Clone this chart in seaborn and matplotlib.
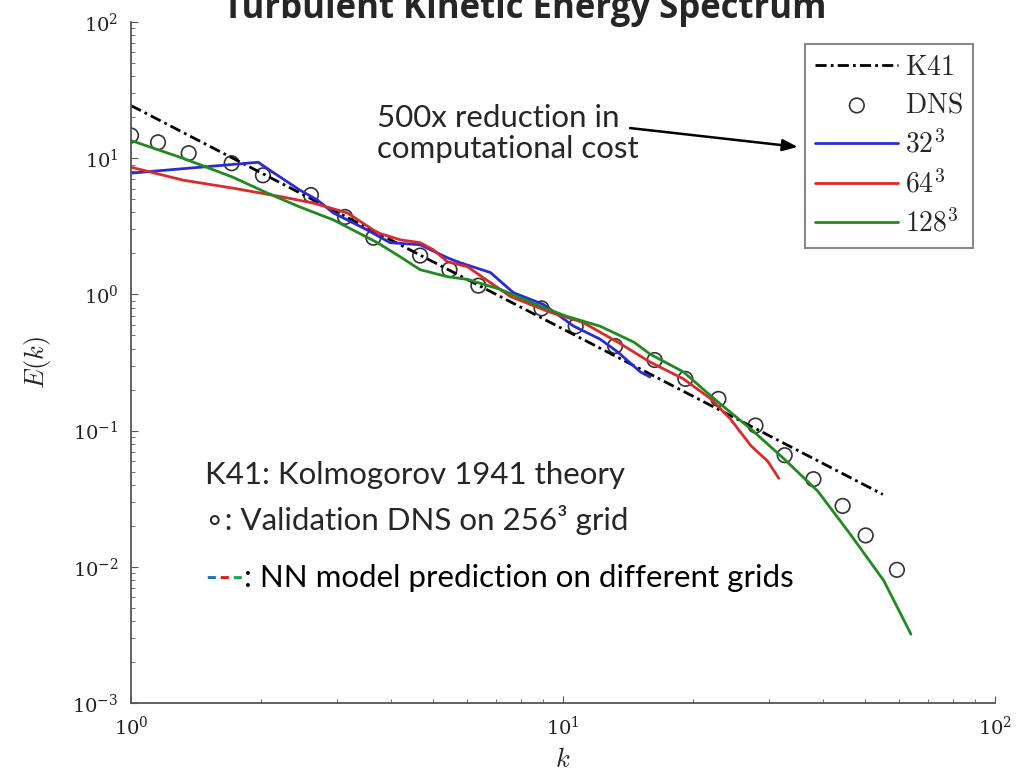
import numpy as np
import pandas as pd
import matplotlib
matplotlib.use("Agg")
import matplotlib.pyplot as plt
from matplotlib.offsetbox import TextArea, HPacker, AnchoredOffsetbox
import seaborn as sns

# Données
k41_k = [1.0, 55.0]
k41_E = [24.4, 0.034]

dns_k = [1.0, 1.155, 1.36, 1.71, 2.02, 2.61, 3.13, 3.64, 4.67, 5.46, 6.37, 8.92,
         10.7, 13.2, 16.3, 19.2, 22.9, 27.9, 32.6, 38.0, 44.4, 50.2, 59.3]
dns_E = [14.7, 13.1, 10.9, 9.2, 7.5, 5.37, 3.71, 2.61, 1.93, 1.52, 1.16, 0.79,
         0.584, 0.418, 0.33, 0.24, 0.171, 0.109, 0.066, 0.044, 0.028, 0.017, 0.0095]

k32 = [1.0, 1.97, 2.13, 2.46, 2.70, 2.94, 3.52, 3.98, 4.67, 5.40, 5.78, 6.79,
       7.68, 9.01, 10.6, 12.2, 13.4, 15.1, 15.9]
E32 = [7.78, 9.35, 7.9, 5.84, 4.94, 3.97, 2.98, 2.40, 2.32, 1.86, 1.71, 1.45,
       1.03, 0.845, 0.584, 0.469, 0.377, 0.270, 0.248]

k64 = [1.0, 1.32, 1.72, 2.25, 2.64, 3.17, 3.72, 4.20, 4.67, 5.01, 5.40, 6.01,
       7.55, 9.35, 11.1, 13.4, 15.9, 19.0, 22.0, 24.4, 27.2, 29.8, 31.6]
E64 = [8.60, 6.91, 6.04, 5.19, 4.69, 3.97, 2.84, 2.52, 2.40, 2.13, 1.74, 1.60,
       0.967, 0.739, 0.625, 0.446, 0.319, 0.240, 0.171, 0.122, 0.0778, 0.0594, 0.0446]

k128 = [1.0, 1.32, 1.72, 2.07, 2.46, 2.94, 3.72, 4.20, 4.67, 5.40, 6.01, 7.16,
        8.87, 10.2, 12.2, 14.6, 15.9, 19.0, 22.8, 27.2, 32.4, 38.9, 46.4, 55.3, 63.9]
E128 = [13.5, 10.0, 7.27, 5.55, 4.39, 3.53, 2.40, 1.89, 1.52, 1.35, 1.29, 1.09,
        0.818, 0.691, 0.584, 0.446, 0.365, 0.270, 0.163, 0.103, 0.0625, 0.0359,
        0.0171, 0.0079, 0.0032]

sns.set_style("ticks")
plt.rcParams["mathtext.fontset"] = "cm"
plt.rcParams["font.family"] = ["DejaVu Serif"]

fig = plt.figure(figsize=(10.25, 7.79), dpi=100)
ax = fig.add_axes([0.1278, 0.0976, 0.8429, 0.874])

sns.lineplot(x=k41_k, y=k41_E, ax=ax, color="black", lw=2, linestyle=(0, (4, 1.5, 1, 1.5)),
             label=r"$\mathrm{K41}$", sort=False, estimator=None)
sns.scatterplot(x=dns_k, y=dns_E, ax=ax, marker="o", s=110, facecolor="none",
                edgecolor="#333333", linewidth=1.2, label=r"$\mathrm{DNS}$")
sns.lineplot(x=k32, y=E32, ax=ax, color="#2b2bd6", lw=2, label=r"$32^3$",
             sort=False, estimator=None)
sns.lineplot(x=k64, y=E64, ax=ax, color="#dc2a2a", lw=2, label=r"$64^3$",
             sort=False, estimator=None)
sns.lineplot(x=k128, y=E128, ax=ax, color="#208a20", lw=2, label=r"$128^3$",
             sort=False, estimator=None)

ax.set(xscale="log", yscale="log", xlim=(1, 100), ylim=(1e-3, 1e2))
sns.despine(ax=ax)
for s in ["left", "bottom"]:
    ax.spines[s].set_color("#555555")
    ax.spines[s].set_linewidth(1.3)
ax.tick_params(which="both", direction="in", colors="#555555", labelcolor="#222222",
               labelsize=14, pad=9)
ax.tick_params(which="major", length=5)
ax.tick_params(which="minor", length=3)
ax.set_xlabel(r"$k$", fontsize=19, labelpad=6)
ax.set_ylabel(r"$E(k)$", fontsize=19, labelpad=14)

leg = ax.legend(loc="upper right", bbox_to_anchor=(0.9745, 0.968), fontsize=20,
                handlelength=3.0, labelspacing=0.4, handletextpad=0.25,
                borderpad=0.35, borderaxespad=0, fancybox=False, framealpha=1,
                edgecolor="#888888")
leg.get_frame().set_linewidth(1.5)

sans = ["Lato", "DejaVu Sans"]
fig.text(0.512, 0.977, "Turbulent Kinetic Energy Spectrum", ha="center", va="baseline",
         fontsize=25, fontweight="bold", family=["Open Sans", "DejaVu Sans"])

fig.text(0.368, 0.829, "500x reduction in\ncomputational cost", ha="left", va="center",
         fontsize=22.5, family=sans, linespacing=1.12)
ax.annotate("", xy=(0.781, 0.811), xytext=(0.612, 0.836), xycoords="figure fraction",
            textcoords="figure fraction",
            arrowprops=dict(arrowstyle="-|>,head_length=0.9,head_width=0.35",
                            color="black", lw=1.8))

fig.text(0.2, 0.39, "K41: Kolmogorov 1941 theory", ha="left", va="center",
         fontsize=22.5, family=sans)
fig.text(0.2, 0.332, "\u2218: Validation DNS on 256\u00b3 grid", ha="left", va="center",
         fontsize=22.5, family=sans)
parts = [TextArea("-", textprops=dict(color=c, fontsize=22.5, family=sans, fontweight="bold"))
         for c in ["#1f6fc0", "#e01b1b", "#1eaa4a"]]
parts.append(TextArea(": NN model prediction on different grids",
                      textprops=dict(color="black", fontsize=22.5, family=sans)))
box = AnchoredOffsetbox(loc="center left", child=HPacker(children=parts, pad=0, sep=1),
                        bbox_to_anchor=(0.2, 0.258), bbox_transform=fig.transFigure,
                        frameon=False, pad=0, borderpad=0)
fig.add_artist(box)

fig.savefig("out.png", dpi=100)
